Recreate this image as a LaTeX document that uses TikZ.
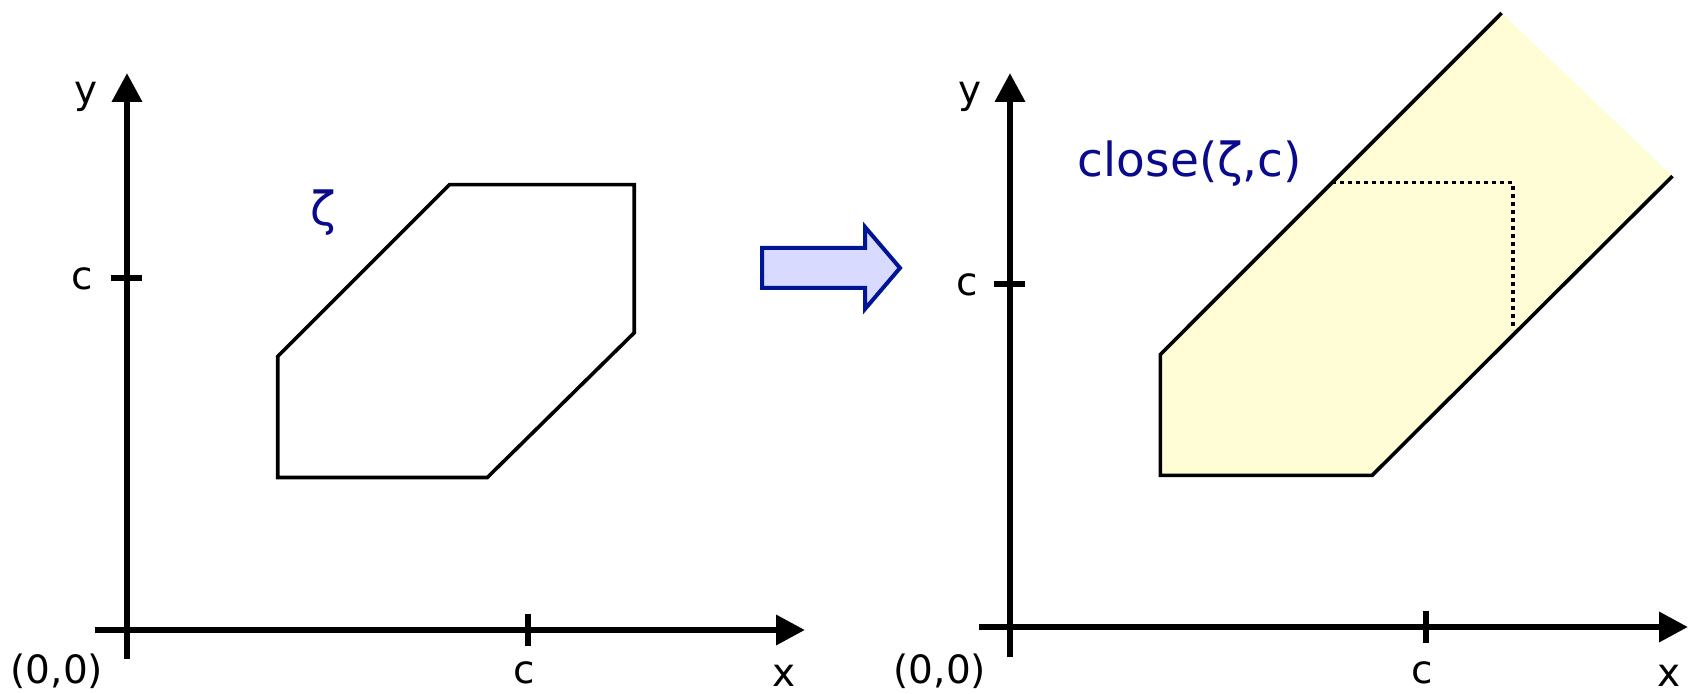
\documentclass[tikz,border=0pt]{standalone}
\usepackage{fontspec}
\setmainfont{DejaVu Sans}
\usetikzlibrary{arrows.meta}
\definecolor{navytext}{RGB}{10,10,140}
\definecolor{arrowfill}{RGB}{216,219,255}
\definecolor{arrowedge}{RGB}{0,20,150}
\definecolor{closefill}{RGB}{255,253,213}
\tikzset{
  axis/.style={line width=3.3pt,-{Triangle[length=14.5pt,width=14.5pt]}},
  tick/.style={line width=3.3pt},
  shapeline/.style={line width=1.8pt,line join=miter},
  dotline/.style={line width=1.9pt,dash pattern=on 1.9pt off 2.1pt},
  axlabel/.style={inner sep=0pt,font=\fontsize{19.5}{19.5}\selectfont},
  setlabel/.style={inner sep=0pt,text=navytext,font=\fontsize{23.5}{23.5}\selectfont},
}
\begin{document}
\begin{tikzpicture}[x=0.5pt,y=-0.5pt]
\useasboundingbox (0,0) rectangle (1694,694);
% ---------- left panel ----------
\coordinate (xs1) at (95,630);
\coordinate (xe1) at (805,630);
\coordinate (ys1) at (127,659);
\coordinate (ye1) at (127,73);
\draw[axis] (xs1) -- (xe1);
\draw[axis] (ys1) -- (ye1);
\coordinate (tya1) at (111,278); \coordinate (tyb1) at (142,278);
\coordinate (txa1) at (528,614); \coordinate (txb1) at (528,646);
\draw[tick] (tya1) -- (tyb1);
\draw[tick] (txa1) -- (txb1);
\node[axlabel] (ly1) at (86,97) {y};
\node[axlabel] (lc1) at (82,279) {c};
\node[axlabel] (lo1) at (57,671) {(0,0)};
\node[axlabel] (lcx1) at (524,673) {c};
\node[axlabel] (lx1) at (784,676) {x};
\node[setlabel] (zeta) at (323,213) {ζ};
\coordinate (h1) at (277.7,356.5);
\coordinate (h2) at (449.4,184.7);
\coordinate (h3) at (634.2,184.7);
\coordinate (h4) at (634.2,332.8);
\coordinate (h5) at (487.3,477.5);
\coordinate (h6) at (277.7,477.5);
\draw[shapeline] (h1) -- (h2) -- (h3) -- (h4) -- (h5) -- (h6) -- cycle;
% ---------- big arrow ----------
\draw[line width=2pt,draw=arrowedge,fill=arrowfill,line join=miter]
  (762,248) -- (865,248) -- (865,227) -- (900,268) -- (865,309) -- (865,288) -- (762,288) -- cycle;
% ---------- right panel ----------
\coordinate (c1) at (1160.4,354.4);
\coordinate (c2) at (1501.7,13);
\coordinate (c3) at (1672.5,176.1);
\coordinate (c4) at (1372.1,475.4);
\coordinate (c5) at (1160.4,475.4);
\fill[closefill] (c1) -- (c2) -- (c3) -- (c4) -- (c5) -- cycle;
\draw[shapeline] (c2) -- (c1) -- (c5) -- (c4) -- (c3);
\coordinate (d1) at (1332,182.6);
\coordinate (d2) at (1512.6,182.6);
\coordinate (d3) at (1512.6,330);
\draw[dotline] (d1) -- (d2) -- (d3);
\coordinate (xs2) at (979,627);
\coordinate (xe2) at (1688,627);
\coordinate (ys2) at (1010,657);
\coordinate (ye2) at (1010,73);
\draw[axis] (xs2) -- (xe2);
\draw[axis] (ys2) -- (ye2);
\coordinate (tya2) at (994,284); \coordinate (tyb2) at (1025,284);
\coordinate (txa2) at (1426,611); \coordinate (txb2) at (1426,643);
\draw[tick] (tya2) -- (tyb2);
\draw[tick] (txa2) -- (txb2);
\node[axlabel] (ly2) at (970,97) {y};
\node[axlabel] (lc2) at (967,285) {c};
\node[axlabel] (lo2) at (940,671) {(0,0)};
\node[axlabel] (lcx2) at (1422,673) {c};
\node[axlabel] (lx2) at (1669,676) {x};
\node[setlabel] (closelab) at (1190,164) {close(ζ,c)};
\end{tikzpicture}
\end{document}
